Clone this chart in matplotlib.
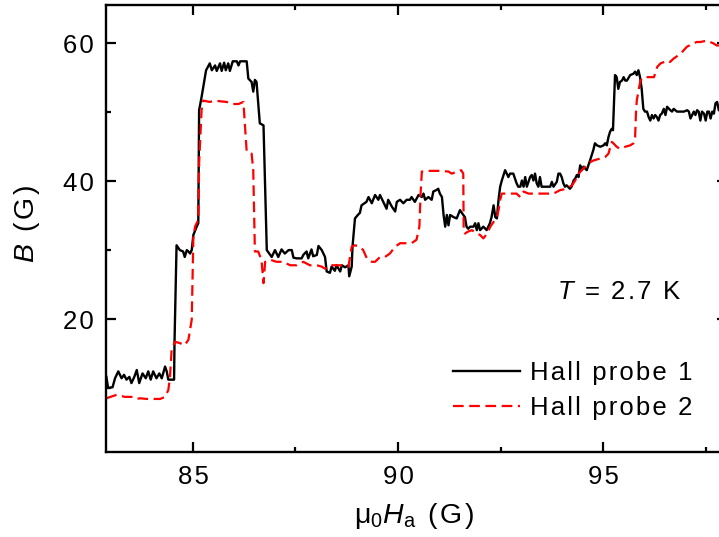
import matplotlib
matplotlib.use('Agg')
import matplotlib.pyplot as plt
from matplotlib.ticker import MultipleLocator, FuncFormatter

plt.rcParams['font.family'] = ['Liberation Sans', 'DejaVu Sans']
plt.rcParams['mathtext.fontset'] = 'custom'
plt.rcParams['mathtext.rm'] = 'Liberation Sans'
plt.rcParams['mathtext.it'] = 'Liberation Sans:italic'

probe1_field = [82.89, 82.93, 83.04, 83.10, 83.18, 83.26, 83.32, 83.38, 83.45, 83.50,
                83.57, 83.63, 83.69, 83.77, 83.85, 83.91, 83.97, 84.03, 84.11, 84.18,
                84.24, 84.32, 84.36, 84.40, 84.54, 84.55, 84.60, 84.68, 84.76, 84.80,
                84.85, 84.89, 84.93, 84.97, 85.01, 85.09, 85.13, 85.15, 85.21, 85.32,
                85.41, 85.46, 85.54, 85.58, 85.66, 85.70, 85.76, 85.80, 85.86, 85.90,
                85.97, 86.07, 86.11, 86.15, 86.31, 86.35, 86.43, 86.47, 86.51, 86.55,
                86.63, 86.72, 86.80, 86.92, 87.00, 87.08, 87.16, 87.24, 87.33, 87.41,
                87.45, 87.53, 87.65, 87.69, 87.77, 87.81, 87.89, 87.93, 88.02, 88.06,
                88.14, 88.22, 88.26, 88.34, 88.38, 88.46, 88.50, 88.59, 88.63, 88.71,
                88.79, 88.81, 88.87, 88.89, 88.95, 89.02, 89.07, 89.11, 89.23, 89.28,
                89.36, 89.44, 89.52, 89.56, 89.64, 89.72, 89.76, 89.85, 89.93, 89.97,
                90.05, 90.13, 90.21, 90.29, 90.33, 90.41, 90.50, 90.58, 90.62, 90.66,
                90.74, 90.82, 90.86, 90.93, 90.98, 91.02, 91.07, 91.11, 91.15, 91.19,
                91.23, 91.27, 91.35, 91.43, 91.51, 91.59, 91.63, 91.67, 91.71, 91.76,
                91.84, 91.88, 91.92, 91.96, 92.00, 92.08, 92.16, 92.20, 92.24, 92.28,
                92.33, 92.37, 92.41, 92.45, 92.49, 92.53, 92.61, 92.65, 92.69, 92.73,
                92.81, 92.89, 92.93, 92.98, 93.02, 93.06, 93.10, 93.14, 93.18, 93.22,
                93.26, 93.30, 93.34, 93.38, 93.42, 93.46, 93.50, 93.63, 93.71, 93.75,
                93.79, 93.87, 93.91, 93.95, 93.99, 94.03, 94.07, 94.11, 94.19, 94.23,
                94.28, 94.32, 94.36, 94.40, 94.44, 94.48, 94.52, 94.60, 94.68, 94.76,
                94.80, 94.85, 94.93, 95.01, 95.05, 95.09, 95.13, 95.17, 95.21, 95.24,
                95.29, 95.33, 95.37, 95.41, 95.46, 95.50, 95.54, 95.58, 95.66, 95.74,
                95.78, 95.82, 95.86, 95.90, 95.94, 95.98, 96.02, 96.07, 96.11, 96.15,
                96.19, 96.23, 96.27, 96.31, 96.35, 96.39, 96.43, 96.48, 96.52, 96.56,
                96.64, 96.68, 96.72, 96.76, 96.80, 96.89, 96.97, 97.05, 97.09, 97.13,
                97.17, 97.21, 97.25, 97.29, 97.33, 97.37, 97.41, 97.46, 97.50, 97.54,
                97.58, 97.62, 97.66, 97.70, 97.74, 97.78, 97.82, 97.90, 98.00]
probe1_B = [11.6, 10.0, 10.1, 11.4, 12.4, 11.4, 11.9, 11.2, 11.6, 10.7,
            11.6, 12.6, 10.7, 12.1, 11.4, 12.4, 11.2, 12.4, 11.4, 12.1,
            11.4, 13.1, 12.4, 11.2, 11.2, 16.5, 30.7, 30.0, 29.8, 29.0,
            30.0, 29.8, 29.5, 30.0, 32.2, 33.4, 33.9, 50.3, 52.2, 56.1,
            57.1, 56.1, 56.8, 56.0, 57.1, 56.0, 57.2, 56.1, 57.1, 56.0,
            57.4, 57.4, 56.8, 57.4, 57.4, 54.9, 54.4, 53.0, 54.7, 54.4,
            48.4, 48.1, 30.0, 29.0, 30.0, 29.0, 30.1, 29.5, 30.0, 30.0,
            28.9, 28.8, 28.8, 29.3, 29.8, 28.8, 30.1, 29.1, 29.3, 30.6,
            30.0, 29.0, 26.9, 26.7, 27.6, 27.0, 27.8, 26.9, 27.8, 27.5,
            27.8, 26.2, 27.6, 30.5, 34.6, 35.1, 35.4, 36.5, 37.0, 37.7,
            36.8, 38.0, 37.3, 38.0, 37.0, 36.0, 37.3, 36.3, 35.6, 37.0,
            37.3, 36.8, 37.3, 37.3, 37.7, 37.0, 38.0, 37.7, 38.2, 37.3,
            37.7, 37.3, 38.5, 38.7, 38.9, 38.2, 37.7, 35.1, 33.4, 35.1,
            33.6, 35.1, 34.8, 34.6, 35.8, 35.1, 34.8, 33.4, 33.1, 33.4,
            33.4, 33.9, 32.9, 33.9, 32.9, 33.4, 32.9, 33.4, 33.9, 34.8,
            36.5, 34.8, 34.6, 37.3, 39.2, 40.1, 41.6, 41.1, 40.6, 41.1,
            41.1, 39.7, 39.2, 39.2, 40.1, 39.2, 40.6, 39.2, 39.9, 40.6,
            40.9, 40.1, 41.1, 39.7, 39.2, 40.6, 39.2, 39.2, 39.2, 39.9,
            39.2, 39.9, 41.1, 41.1, 40.6, 39.7, 39.2, 39.4, 38.9, 39.2,
            40.1, 40.4, 40.9, 40.6, 42.3, 41.6, 42.1, 41.6, 43.0, 44.5,
            45.5, 45.2, 45.0, 45.2, 45.5, 45.2, 46.4, 47.2, 47.6, 47.4,
            55.4, 55.1, 53.4, 54.4, 54.6, 55.1, 54.6, 54.6, 55.4, 55.6,
            55.9, 55.4, 56.1, 55.1, 53.4, 50.5, 50.1, 50.1, 49.3, 48.8,
            49.6, 49.1, 49.6, 49.3, 48.8, 49.6, 49.8, 50.5, 49.6, 50.8,
            50.3, 50.1, 50.5, 50.3, 50.1, 50.1, 50.1, 50.3, 50.1, 49.1,
            49.6, 50.1, 49.6, 50.3, 50.1, 48.8, 50.1, 49.8, 48.8, 50.1,
            50.1, 49.1, 50.1, 49.8, 51.3, 51.5, 50.3, 50.1, 50.1]

probe2_field = [82.89, 83.14, 83.34, 83.54, 83.63, 83.71, 83.87, 84.20, 84.32, 84.40,
                84.44, 84.48, 84.56, 84.68, 84.80, 84.89, 84.97, 85.01, 85.05, 85.13,
                85.15, 85.21, 85.25, 85.41, 85.54, 85.66, 85.82, 85.98, 86.11, 86.23,
                86.31, 86.43, 86.47, 86.51, 86.59, 86.67, 86.72, 86.76, 86.88, 87.04,
                87.20, 87.37, 87.53, 87.69, 87.85, 88.02, 88.14, 88.22, 88.34, 88.59,
                88.79, 88.87, 88.95, 89.07, 89.15, 89.24, 89.36, 89.44, 89.56, 89.68,
                89.80, 89.93, 90.05, 90.21, 90.33, 90.45, 90.52, 90.55, 90.58, 90.79,
                91.02, 91.23, 91.31, 91.54, 91.59, 91.60, 91.63, 91.71, 91.80, 91.92,
                92.00, 92.08, 92.17, 92.25, 92.33, 92.41, 92.45, 92.49, 92.53, 92.70,
                92.82, 92.89, 92.98, 93.06, 93.18, 93.46, 93.79, 93.95, 94.11, 94.24,
                94.32, 94.40, 94.48, 94.56, 94.64, 94.76, 94.93, 95.05, 95.13, 95.21,
                95.25, 95.33, 95.41, 95.54, 95.66, 95.74, 95.78, 95.80, 95.82, 95.87,
                95.91, 95.99, 96.11, 96.24, 96.32, 96.40, 96.57, 96.63, 96.72, 96.84,
                96.92, 97.04, 97.20, 97.28, 97.37, 97.53, 97.61, 97.69, 97.77, 97.82,
                97.95]
probe2_B = [8.5, 9.0, 8.7, 8.7, 8.4, 8.5, 8.4, 8.4, 8.7, 9.7,
            11.6, 15.5, 16.7, 16.5, 16.2, 17.0, 19.9, 31.9, 33.4, 34.4,
            42.6, 50.3, 51.7, 51.5, 51.7, 51.6, 51.5, 51.2, 51.2, 51.5,
            44.3, 44.0, 41.6, 29.8, 29.8, 28.6, 25.2, 28.3, 28.6, 28.3,
            28.3, 27.8, 27.8, 28.3, 27.8, 27.8, 27.6, 27.3, 27.8, 27.8,
            27.6, 30.5, 30.7, 30.5, 30.0, 28.8, 28.3, 28.3, 29.0, 29.0,
            29.5, 30.5, 31.0, 31.0, 31.0, 31.5, 33.4, 38.2, 41.4, 41.5,
            41.5, 41.4, 41.1, 41.6, 41.1, 32.9, 32.4, 32.7, 32.9, 32.4,
            32.2, 31.7, 32.4, 33.4, 34.1, 34.8, 35.8, 37.3, 38.2, 38.2,
            38.2, 38.2, 37.7, 38.5, 38.2, 38.2, 38.2, 38.7, 38.9, 39.4,
            40.1, 41.1, 41.6, 42.1, 42.6, 43.0, 43.3, 43.5, 44.0, 45.7,
            45.5, 45.0, 44.7, 45.0, 45.2, 45.5, 46.4, 49.8, 51.7, 53.4,
            54.6, 55.1, 55.1, 55.1, 56.6, 57.1, 57.5, 57.3, 57.8, 58.3,
            58.7, 59.5, 60.0, 60.2, 60.2, 60.4, 60.2, 60.0, 59.7, 59.7,
            59.6]

labels = ['Hall probe 1', 'Hall probe 2']
x_ticks = [85, 90, 95]
y_ticks = [20, 40, 60]

HS = '\u200a'  # hair space, mimics the wide letter spacing of the original


def track(s):
    return HS.join(s)


W, H = 719, 537
fig = plt.figure(figsize=(W / 100, H / 100), dpi=100)
left, right, top, bottom = 106, 727, 5, 452
ax = fig.add_axes([left / W, 1 - bottom / H, (right - left) / W, (bottom - top) / H])

ax.plot(probe1_field, probe1_B, color='black', lw=1.7, label=track(labels[0]))
ax.plot(probe2_field, probe2_B, color='#ff0000', lw=1.6, dashes=(4.8, 2.5), label=track(labels[1]))

ax.set_xlim(82.88, 98.02)
ax.set_ylim(0.70, 65.57)
ax.set_xticks(x_ticks)
ax.set_yticks(y_ticks)
fmt = FuncFormatter(lambda v, p: track('%g' % v))
ax.xaxis.set_major_formatter(fmt)
ax.yaxis.set_major_formatter(fmt)
ax.xaxis.set_minor_locator(MultipleLocator(2.5))
ax.yaxis.set_minor_locator(MultipleLocator(10))
ax.tick_params(which='both', direction='in', top=True, right=True, width=1.6,
               labelsize=18.5)
ax.tick_params(which='major', length=7.2)
ax.tick_params(which='minor', length=3.6)
ax.tick_params(axis='x', pad=9)
ax.tick_params(axis='y', pad=9)
for s in ax.spines.values():
    s.set_linewidth(1.7)

fig.text(27 / W, 1 - 224 / H, r'$\mathit{B}$' + HS + track(' (G)'), rotation=90,
         ha='center', va='center', fontsize=20.5)
fig.text(414 / W, 1 - 516 / H,
         'μ' + r'$_{\mathit{0}}$$\mathit{H}_{\mathrm{a}}$' + HS + track(' (G)'),
         ha='center', va='center', fontsize=20.5)
ax.text(93.88, 22.9, r'$\mathit{T}$' + HS + track(' = 2.7 K'), ha='left',
        va='baseline', fontsize=18.5)

ax.legend(loc='upper left',
          bbox_to_anchor=((453 - left) / (right - left), (bottom - 361) / (bottom - top)),
          frameon=False, borderpad=0, borderaxespad=0, handlelength=2.6,
          handletextpad=0.4, labelspacing=0.42, fontsize=18.5)

fig.savefig('out.png', dpi=100)
